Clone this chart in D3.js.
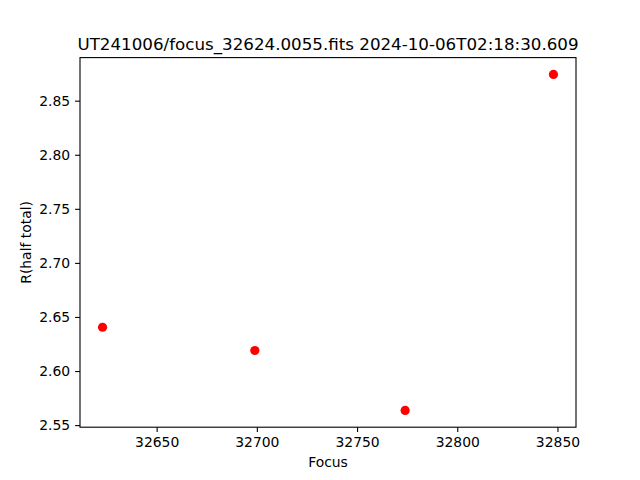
<!DOCTYPE html>
<html>
<head>
<meta charset="utf-8">
<script src="https://cdn.jsdelivr.net/npm/d3@7"></script>
<style>
  body { margin: 0; background: #fff; }
  svg text { font-family: "DejaVu Sans", sans-serif; fill: #000; }
</style>
</head>
<body>
<div id="graph"></div>
<script>
const titleText = "UT241006/focus_32624.0055.fits 2024-10-06T02:18:30.609";
const xLabel = "Focus";
const yLabel = "R(half total)";
const focusValues = [32623, 32699, 32774, 32848];
const radiusValues = [2.6405, 2.619, 2.5636, 2.8743];
const xTicks = [32650, 32700, 32750, 32800, 32850];
const yTicks = [2.55, 2.60, 2.65, 2.70, 2.75, 2.80, 2.85];

const fullwidth = 640;
const fullheight = 480;
const plotLeft = 80, plotRight = 576, plotTop = 57.6, plotBottom = 427.2;

// matplotlib style 5% margins
const xMin = d3.min(focusValues), xMax = d3.max(focusValues);
const yMin = d3.min(radiusValues), yMax = d3.max(radiusValues);
const xPad = (xMax - xMin) * 0.05, yPad = (yMax - yMin) * 0.05;

const x = d3.scaleLinear().domain([xMin - xPad, xMax + xPad]).range([plotLeft, plotRight]);
const y = d3.scaleLinear().domain([yMin - yPad, yMax + yPad]).range([plotBottom, plotTop]);

const svg = d3.select("#graph").append("svg")
    .attr("width", fullwidth)
    .attr("height", fullheight);

svg.append("rect")
    .attr("width", fullwidth).attr("height", fullheight)
    .attr("fill", "#fff");

// points
svg.selectAll("circle")
    .data(focusValues)
    .enter()
    .append("circle")
    .attr("cx", d => x(d))
    .attr("cy", (d, i) => y(radiusValues[i]))
    .attr("r", 4.6)
    .attr("fill", "#ff0000");

// axes
const xAxis = svg.append("g")
    .attr("transform", `translate(0,${plotBottom})`)
    .call(d3.axisBottom(x).tickValues(xTicks).tickFormat(d3.format("d")).tickSize(4.9).tickPadding(4.9).tickSizeOuter(0));
const yAxis = svg.append("g")
    .attr("transform", `translate(${plotLeft},0)`)
    .call(d3.axisLeft(y).tickValues(yTicks).tickFormat(d3.format(".2f")).tickSize(4.9).tickPadding(4.9).tickSizeOuter(0));

[xAxis, yAxis].forEach(a => {
    a.select(".domain").remove();
    a.selectAll("line").attr("stroke", "#000").attr("stroke-width", 1.1);
    a.selectAll("text").style("font-size", "13.9px").attr("font-family", null);
});

// frame
svg.append("rect")
    .attr("x", plotLeft).attr("y", plotTop)
    .attr("width", plotRight - plotLeft).attr("height", plotBottom - plotTop)
    .attr("fill", "none")
    .attr("stroke", "#000")
    .attr("stroke-width", 1.1);

// title and labels
svg.append("text")
    .attr("x", (plotLeft + plotRight) / 2)
    .attr("y", 50)
    .attr("text-anchor", "middle")
    .style("font-size", "16.7px")
    .text(titleText);

svg.append("text")
    .attr("x", (plotLeft + plotRight) / 2)
    .attr("y", 467)
    .attr("text-anchor", "middle")
    .style("font-size", "13.9px")
    .text(xLabel);

svg.append("text")
    .attr("transform", `translate(31,${(plotTop + plotBottom) / 2}) rotate(-90)`)
    .attr("text-anchor", "middle")
    .style("font-size", "13.9px")
    .text(yLabel);
</script>
</body>
</html>
